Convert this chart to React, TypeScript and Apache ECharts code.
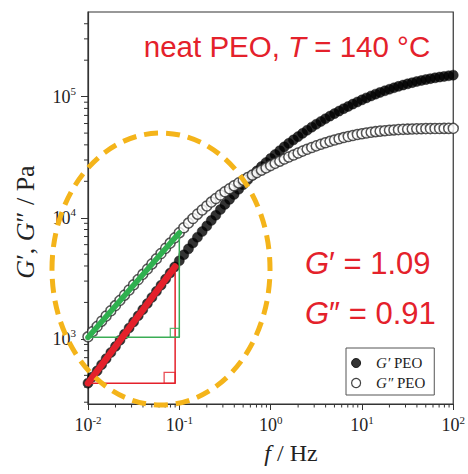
import React, { useEffect, useRef } from "react";
import * as echarts from "echarts";

// Frequency sweep (Hz)
const freqHz = [
  0.01, 0.0112, 0.0126, 0.0141, 0.0158, 0.0178, 0.02, 0.0224, 0.0251, 0.0282, 0.0316, 0.0355, 0.0398, 0.0447, 0.0501, 0.0562, 0.0631, 0.0708, 0.0794, 0.0891,
  0.1, 0.112, 0.126, 0.141, 0.158, 0.178, 0.2, 0.224, 0.251, 0.282, 0.316, 0.355, 0.398, 0.447, 0.501, 0.562, 0.631, 0.708, 0.794, 0.891,
  1.0, 1.12, 1.26, 1.41, 1.58, 1.78, 2.0, 2.24, 2.51, 2.82, 3.16, 3.55, 3.98, 4.47, 5.01, 5.62, 6.31, 7.08, 7.94, 8.91,
  10.0, 11.2, 12.6, 14.1, 15.8, 17.8, 20.0, 22.4, 25.1, 28.2, 31.6, 35.5, 39.8, 44.7, 50.1, 56.2, 63.1, 70.8, 79.4, 89.1, 100,
];

// G' (storage modulus, Pa)
const gStorage = [
  431, 485, 545, 612, 687, 772, 867, 975, 1094, 1230, 1380, 1552, 1742, 1959, 2198, 2472, 2773, 3119, 3499, 3936,
  4416, 4950, 5540, 6190, 6910, 7700, 8560, 9510, 10500, 11700, 12900, 14200, 15600, 17200, 18800, 20600, 22400, 24400, 26500, 28600,
  30900, 33300, 35800, 38500, 41200, 44000, 46800, 49800, 52800, 56000, 59200, 62400, 65700, 69100, 72500, 76000, 79600, 83100, 86800, 90400,
  94100, 97700, 101400, 104900, 108400, 111800, 115100, 118400, 121600, 124600, 127600, 130500, 133300, 135900, 138400, 140800, 143000, 145100, 147000, 148800, 150500,
];

// G'' (loss modulus, Pa)
const gLoss = [
  1040, 1148, 1268, 1400, 1545, 1706, 1884, 2080, 2296, 2535, 2799, 3090, 3412, 3767, 4159, 4592, 5070, 5598, 6180, 6823,
  7534, 8270, 9040, 9860, 10710, 11600, 12520, 13470, 14430, 15410, 16390, 17380, 18390, 19410, 20440, 21480, 22530, 23610, 24710, 25840,
  26980, 28140, 29330, 30530, 31760, 33000, 34250, 35510, 36760, 38000, 39230, 40440, 41620, 42760, 43870, 44930, 45950, 46910, 47820, 48670,
  49430, 50140, 50790, 51380, 51900, 52360, 52760, 53110, 53420, 53680, 53890, 54060, 54210, 54340, 54440, 54510, 54580, 54630, 54660, 54690, 54700,
];

// Terminal-slope triangles
const redSlopeF = [0.01, 0.09];
const redSlopeG = [430, 3960];
const greenSlopeF = [0.01, 0.1];
const greenSlopeG = [1030, 7500];

// Axis ranges and ticks
const xMin = 0.01;
const xMax = 100;
const yMin = 290;
const yMax = 500000;
const yMajorTicks = [1000, 10000, 100000];
const xMinorTicks = [
  0.02, 0.03, 0.04, 0.05, 0.06, 0.07, 0.08, 0.09,
  0.2, 0.3, 0.4, 0.5, 0.6, 0.7, 0.8, 0.9,
  2, 3, 4, 5, 6, 7, 8, 9,
  20, 30, 40, 50, 60, 70, 80, 90,
];
const yMinorTicks = [
  300, 400, 500, 600, 700, 800, 900,
  2000, 3000, 4000, 5000, 6000, 7000, 8000, 9000,
  20000, 30000, 40000, 50000, 60000, 70000, 80000, 90000,
  200000, 300000, 400000,
];

const SERIF = "'Liberation Serif', 'Times New Roman', serif";
const SANS = "'Liberation Sans', Arial, sans-serif";
const RED = "#e4212b";
const GREEN_THIN = "#3aad55";
const GREEN_THICK = "#2fb04f";
const AXIS = "#333";

const powLabel = (v: number) => {
  const e = Math.round(Math.log10(v));
  return "{b|10}{s|" + e + "}";
};

const labelRich = {
  b: { fontFamily: SERIF, fontSize: 18, lineHeight: 22, color: "#222" },
  s: { fontFamily: SERIF, fontSize: 11, lineHeight: 12, verticalAlign: "top", color: "#222" },
};

const redText = (size: number) => ({
  n: { fontFamily: SANS, fontSize: size, fill: RED, color: RED },
  i: { fontFamily: SANS, fontSize: size, fontStyle: "italic", fill: RED, color: RED },
});

export default function App() {
  const ref = useRef<HTMLDivElement>(null);

  useEffect(() => {
    if (!ref.current) return;
    const chart = echarts.init(ref.current, null, { renderer: "svg" });

    const option: any = {
      animation: false,
      backgroundColor: "#ffffff",
      grid: {
        left: 88,
        right: 6,
        top: 12,
        bottom: 70,
        show: true,
        borderColor: AXIS,
        borderWidth: 1.2,
        backgroundColor: "transparent",
      },
      xAxis: {
        type: "log",
        logBase: 10,
        min: xMin,
        max: xMax,
        axisLine: { onZero: false, lineStyle: { color: AXIS, width: 1.2 } },
        axisTick: { length: 6, lineStyle: { color: AXIS, width: 1 } },
        axisLabel: { margin: 10, formatter: powLabel, rich: labelRich },
        splitLine: { show: false },
      },
      yAxis: {
        type: "log",
        logBase: 10,
        min: yMin,
        max: yMax,
        axisLine: { onZero: false, lineStyle: { color: AXIS, width: 1.2 } },
        axisTick: { length: 7, customValues: yMajorTicks, lineStyle: { color: AXIS, width: 1 } },
        axisLabel: { margin: 12, customValues: yMajorTicks, formatter: powLabel, rich: labelRich },
        splitLine: { show: false },
      },
      legend: {
        data: [
          { name: "G′ PEO", icon: "circle", itemStyle: { color: "#000", borderColor: "#000", borderWidth: 1 } },
          { name: "G″ PEO", icon: "circle", itemStyle: { color: "#fff", borderColor: "#111", borderWidth: 1.2 } },
        ],
        orient: "vertical",
        left: 346,
        top: 348,
        padding: [7, 9, 4, 5],
        itemGap: 4,
        itemWidth: 30,
        itemHeight: 9,
        borderColor: "#555",
        borderWidth: 1,
        borderRadius: 0,
        backgroundColor: "#fff",
        selectedMode: false,
        formatter: (name: string) => "{i|" + name.slice(0, 2) + "}{n|" + name.slice(2) + "}",
        textStyle: {
          fontFamily: SERIF,
          fontSize: 15,
          lineHeight: 16,
          color: "#222",
          rich: {
            i: { fontFamily: SERIF, fontSize: 15, fontStyle: "italic", color: "#222" },
            n: { fontFamily: SERIF, fontSize: 15, color: "#222" },
          },
        },
      },
      series: [
        {
          name: "G′ PEO",
          type: "scatter",
          symbol: "circle",
          symbolSize: 10,
          silent: true,
          itemStyle: { color: "#000", borderColor: "#000", borderWidth: 0.5 },
          data: freqHz.map((f, i) => [f, gStorage[i]]),
          z: 2,
        },
        {
          name: "G″ PEO",
          type: "scatter",
          symbol: "circle",
          symbolSize: 10,
          silent: true,
          itemStyle: { color: "#fff", borderColor: "#2a2a2a", borderWidth: 1.5 },
          data: freqHz.map((f, i) => [f, gLoss[i]]),
          z: 3,
        },
        {
          name: "red-triangle",
          type: "line",
          silent: true,
          symbol: "none",
          lineStyle: { color: RED, width: 1.5 },
          data: [
            [redSlopeF[0], redSlopeG[0]],
            [redSlopeF[1], redSlopeG[0]],
            [redSlopeF[1], redSlopeG[1]],
          ],
          z: 4,
        },
        {
          name: "red-fit",
          type: "line",
          silent: true,
          symbol: "none",
          lineStyle: { color: RED, width: 6.5, cap: "round" },
          data: [
            [redSlopeF[0], redSlopeG[0]],
            [redSlopeF[1], redSlopeG[1]],
          ],
          z: 5,
        },
        {
          name: "green-triangle",
          type: "line",
          silent: true,
          symbol: "none",
          lineStyle: { color: GREEN_THIN, width: 1.5 },
          data: [
            [greenSlopeF[0], greenSlopeG[0]],
            [greenSlopeF[1], greenSlopeG[0]],
            [greenSlopeF[1], greenSlopeG[1]],
          ],
          z: 4,
        },
        {
          name: "green-fit",
          type: "line",
          silent: true,
          symbol: "none",
          lineStyle: { color: GREEN_THICK, width: 5.5, cap: "round" },
          data: [
            [greenSlopeF[0], greenSlopeG[0]],
            [greenSlopeF[1], greenSlopeG[1]],
          ],
          z: 5,
        },
        {
          name: "red-corner",
          type: "scatter",
          silent: true,
          symbol: "rect",
          symbolSize: 11,
          symbolOffset: [-5.5, -5.5],
          itemStyle: { color: "rgba(0,0,0,0)", borderColor: RED, borderWidth: 1.3 },
          data: [[redSlopeF[1], redSlopeG[0]]],
          z: 4,
        },
        {
          name: "green-corner",
          type: "scatter",
          silent: true,
          symbol: "rect",
          symbolSize: 9,
          symbolOffset: [-4.5, -4.5],
          itemStyle: { color: "rgba(0,0,0,0)", borderColor: GREEN_THIN, borderWidth: 1.3 },
          data: [[greenSlopeF[1], greenSlopeG[0]]],
          z: 4,
        },
        {
          name: "x-minor",
          type: "custom",
          coordinateSystem: "cartesian2d",
          silent: true,
          clip: false,
          data: xMinorTicks.map((v) => [v, yMin]),
          renderItem: (_p: any, api: any) => {
            const p = api.coord([api.value(0), api.value(1)]);
            return {
              type: "line",
              shape: { x1: p[0], y1: p[1], x2: p[0], y2: p[1] + 3.5 },
              style: { stroke: AXIS, lineWidth: 1 },
            };
          },
          z: 6,
        },
        {
          name: "y-minor",
          type: "custom",
          coordinateSystem: "cartesian2d",
          silent: true,
          clip: false,
          data: yMinorTicks.map((v) => [xMin, v]),
          renderItem: (_p: any, api: any) => {
            const p = api.coord([api.value(0), api.value(1)]);
            return {
              type: "line",
              shape: { x1: p[0], y1: p[1], x2: p[0] - 4, y2: p[1] },
              style: { stroke: AXIS, lineWidth: 1 },
            };
          },
          z: 6,
        },
      ],
      graphic: [
        {
          type: "ellipse",
          z: 100,
          silent: true,
          shape: { cx: 161, cy: 269, rx: 109, ry: 136 },
          style: { fill: "none", stroke: "#f4b41a", lineWidth: 5, lineDash: [14, 8] },
        },
        {
          type: "text",
          z: 100,
          x: 287,
          y: 46,
          style: {
            text: "{n|neat PEO, }{i|T}{n| = 140 °C}",
            align: "center",
            verticalAlign: "middle",
            rich: redText(29.5),
          },
        },
        {
          type: "text",
          z: 100,
          x: 305,
          y: 263,
          style: {
            text: "{i|G}{n|′ = 1.09}",
            align: "left",
            verticalAlign: "middle",
            rich: redText(31),
          },
        },
        {
          type: "text",
          z: 100,
          x: 305,
          y: 313,
          style: {
            text: "{i|G}{n|″ = 0.91}",
            align: "left",
            verticalAlign: "middle",
            rich: redText(31),
          },
        },
        {
          type: "text",
          z: 100,
          x: 25,
          y: 222,
          rotation: Math.PI / 2,
          style: {
            text: "{i|G}{n|′, }{i|G}{n|″ / Pa}",
            align: "center",
            verticalAlign: "middle",
            rich: {
              n: { fontFamily: SERIF, fontSize: 26, fill: "#222", color: "#222" },
              i: { fontFamily: SERIF, fontSize: 26, fontStyle: "italic", fill: "#222", color: "#222" },
            },
          },
        },
        {
          type: "text",
          z: 100,
          x: 291,
          y: 453,
          style: {
            text: "{i|f}{n| / Hz}",
            align: "center",
            verticalAlign: "middle",
            rich: {
              n: { fontFamily: SERIF, fontSize: 24, fill: "#222", color: "#222" },
              i: { fontFamily: SERIF, fontSize: 24, fontStyle: "italic", fill: "#222", color: "#222" },
            },
          },
        },
      ],
    };

    chart.setOption(option);
    return () => chart.dispose();
  }, []);

  return (
    <div
      ref={ref}
      style={{ position: "fixed", left: 0, top: 0, width: 468, height: 474, background: "#fff" }}
    />
  );
}
